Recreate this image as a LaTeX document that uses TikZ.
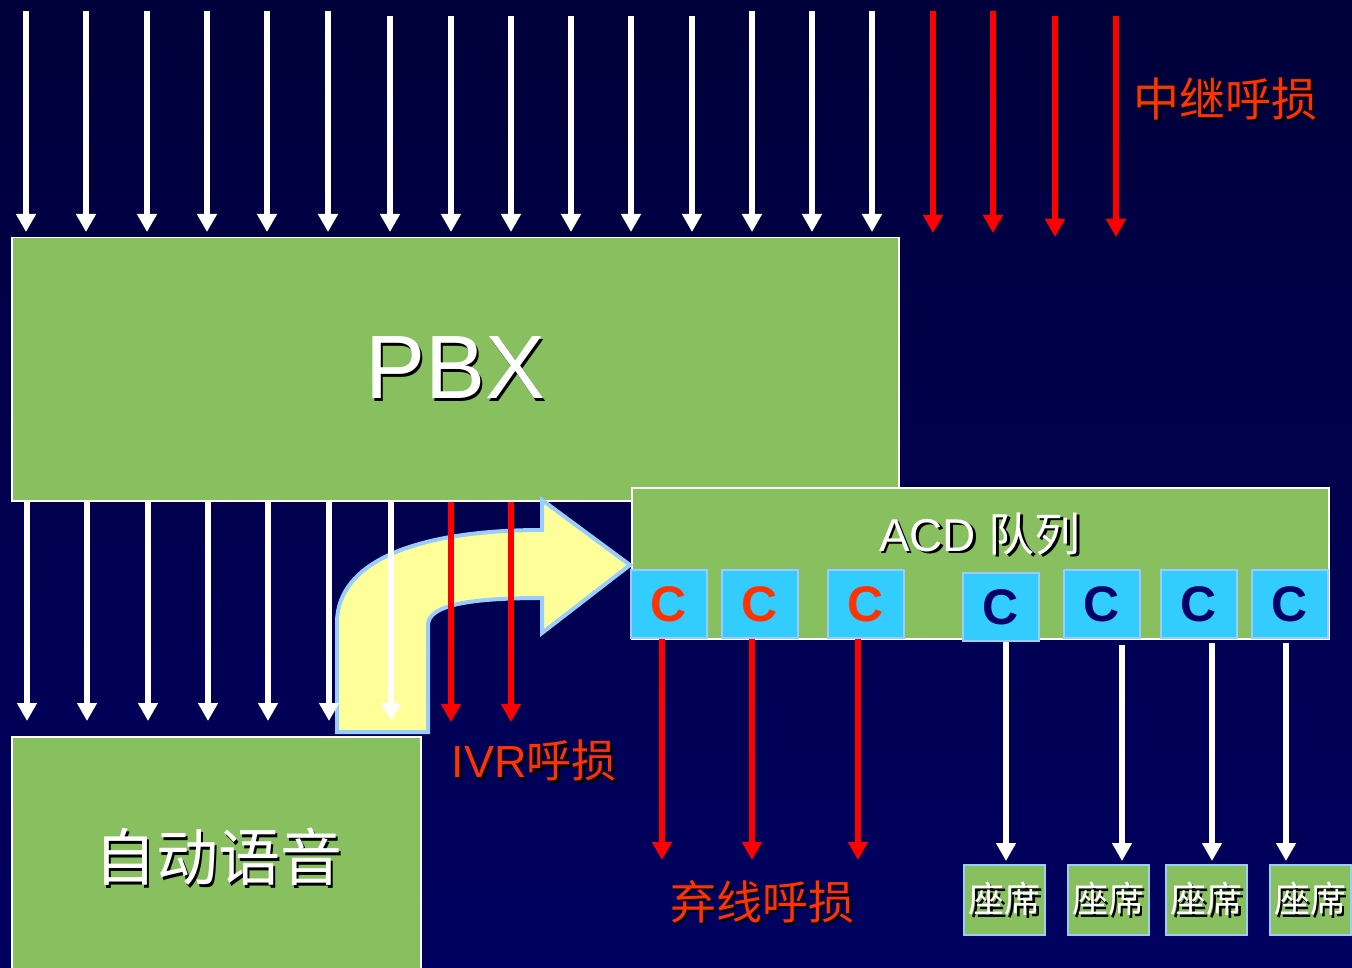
\documentclass[tikz,border=0pt]{standalone}
\usepackage{fontspec}
\setmainfont{Liberation Sans}
\newfontfamily\cjk{Noto Sans CJK SC}
\usetikzlibrary{arrows.meta}
\definecolor{bgtop}{RGB}{0,0,58}
\definecolor{bgbot}{RGB}{0,0,96}
\definecolor{boxgreen}{RGB}{136,192,96}
\definecolor{cyanbox}{RGB}{51,204,255}
\definecolor{lblue}{RGB}{153,204,255}
\definecolor{lossred}{RGB}{255,51,0}
\definecolor{navyc}{RGB}{0,0,102}
\definecolor{yel}{RGB}{255,255,153}
\newcommand\shtxt[2][white]{\makebox[0pt][l]{\hspace{2.5pt}\raisebox{-2.5pt}{\color{black}#2}}{\color{#1}#2}}
\begin{document}
\begin{tikzpicture}[x=1pt,y=-1pt,
  greenbox/.style={draw=white, line width=1.5pt, fill=boxgreen, inner sep=0pt},
  cbox/.style={draw=lblue, line width=1.5pt, fill=cyanbox, minimum width=76pt, minimum height=68pt, inner sep=0pt, font=\fontsize{50}{50}\selectfont\bfseries},
  seat/.style={draw=lblue, line width=2pt, fill=boxgreen, minimum width=81pt, minimum height=70pt, inner sep=0pt, font=\cjk\fontsize{36}{36}\selectfont},
  warrow/.style={draw=white, line width=5.5pt, -{Triangle[width=19pt,length=18pt]}},
  rarrow/.style={draw=red, line width=5.5pt, -{Triangle[width=19pt,length=18pt]}},
  losslabel/.style={font=\cjk\fontsize{46}{46}\selectfont, inner sep=0pt}
]
\useasboundingbox (0,0) rectangle (1352,968);
\clip (0,0) rectangle (1352,968);
\shade[top color=bgtop,bottom color=bgbot] (0,0) rectangle (1352,968);

% PBX
\node[greenbox, minimum width=887pt, minimum height=263pt, anchor=north west,
      font=\fontsize{90}{90}\selectfont] (pbx) at (11,237) {\shtxt{PBX}};

% top incoming arrows
\foreach \x in {26,86,147,207,267,328,752,812,872}
  \draw[warrow, shorten >=5pt] (\x,11) -- (\x,0 |- pbx.north);
\foreach \x in {390,451,511,571,631,692}
  \draw[warrow, shorten >=5pt] (\x,16) -- (\x,0 |- pbx.north);
\foreach \x in {933,993}
  \draw[rarrow] (\x,11) -- (\x,233);
\foreach \x in {1055,1116}
  \draw[rarrow] (\x,16) -- (\x,237);

% ACD queue
\node[greenbox, minimum width=697pt, minimum height=151pt, anchor=north west] (acd) at (631,487) {};
\node[font=\fontsize{46}{46}\selectfont, inner sep=0pt] (acdt) at (980,535) {\shtxt{ACD {\cjk 队列}}};

\node[cbox] (c1) at (669,604) {\color{lossred}C};
\node[cbox] (c2) at (760,604) {\color{lossred}C};
\node[cbox] (c3) at (866,604) {\color{lossred}C};
\node[cbox] (c4) at (1001,607) {\color{navyc}C};
\node[cbox] (c5) at (1102,604) {\color{navyc}C};
\node[cbox] (c6) at (1199,604) {\color{navyc}C};
\node[cbox] (c7) at (1290,604) {\color{navyc}C};

% IVR box
\node[greenbox, minimum width=409pt, minimum height=250pt, anchor=north west] (ivr) at (11,736) {};
\node[font=\cjk\fontsize{62}{62}\selectfont, inner sep=0pt] (ivrt) at (218,858) {\shtxt{自动语音}};

% yellow bent arrow
\draw[fill=yel, draw=lblue, line width=4pt, line join=miter]
  (337,732) -- (337,623) .. controls (337,560) and (420,530) .. (542,530)
  -- (542,500) -- (630,565) -- (542,633) -- (542,598)
  .. controls (470,598) and (428,605) .. (428,625) -- (428,732) -- cycle;

% arrows out of PBX
\foreach \x in {27,87,148,208,268,329,391}
  \draw[warrow, shorten >=15pt] (\x,0 |- pbx.south) -- (\x,0 |- ivr.north);
\foreach \x in {451,511}
  \draw[rarrow, shorten >=14pt] (\x,0 |- pbx.south) -- (\x,0 |- ivr.north);

% seats
\node[seat] (s1) at (1004.5,900) {\shtxt{座席}};
\node[seat] (s2) at (1108,900) {\shtxt{座席}};
\node[seat] (s3) at (1206.5,900) {\shtxt{座席}};
\node[seat] (s4) at (1310,900) {\shtxt{座席}};

% abandoned calls
\coordinate (ab) at (0,860);
\draw[rarrow] (662,0 |- c1.south) -- (662,0 |- ab);
\draw[rarrow] (752,0 |- c2.south) -- (752,0 |- ab);
\draw[rarrow] (858,0 |- c3.south) -- (858,0 |- ab);

% answered calls
\draw[warrow, shorten >=3pt] (1006,0 |- c4.south) -- (1006,0 |- s1.north);
\draw[warrow, shorten >=3pt] (1122,645) -- (1122,0 |- s2.north);
\draw[warrow, shorten >=3pt] (1212,643) -- (1212,0 |- s3.north);
\draw[warrow, shorten >=3pt] (1286,643) -- (1286,0 |- s4.north);

% loss labels
\node[losslabel] (trunk) at (1225,100) {\shtxt[lossred]{中继呼损}};
\node[losslabel, font=\fontsize{45}{45}\selectfont] (ivrloss) at (534,762) {\shtxt[lossred]{IVR{\cjk 呼损}}};
\node[losslabel] (abloss) at (762,903) {\shtxt[lossred]{弃线呼损}};
\end{tikzpicture}
\end{document}
